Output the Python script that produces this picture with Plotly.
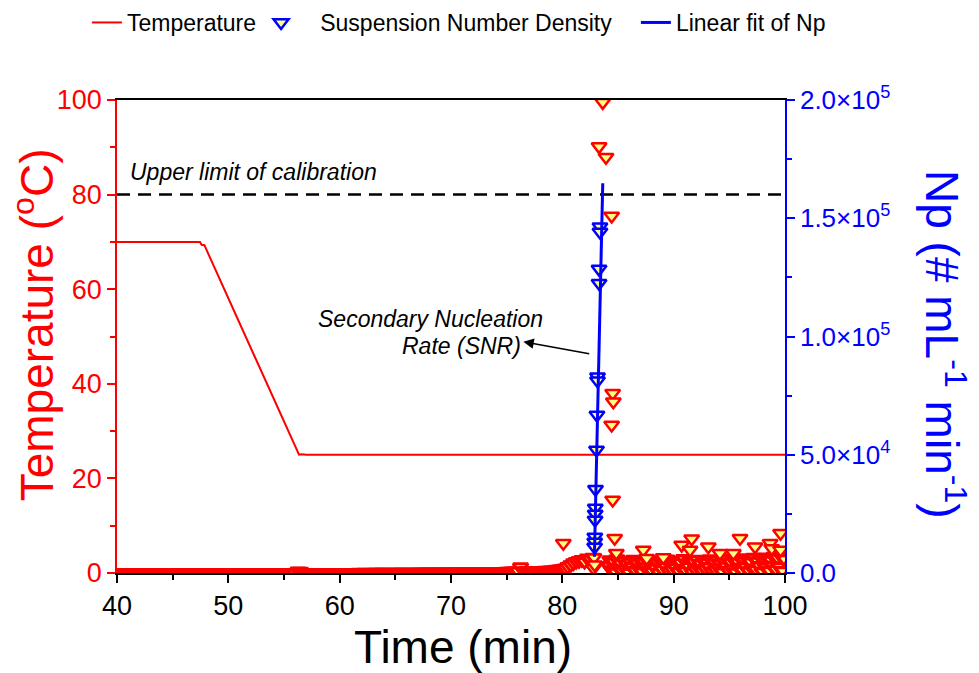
import plotly.graph_objects as go

# ---------------- data ----------------
# Temperature profile (left axis, degC)
temp_time = [40.0, 47.45, 47.6, 47.85, 56.35, 56.6, 57.0, 100.0]
temp_vals = [70.0, 70.0, 69.4, 69.3, 25.0, 25.1, 25.0, 25.0]

# Suspension number density, dense baseline (right axis), sampled every 0.25 min from 40.0 min
base_t0, base_dt = 40.0, 0.25
base_np = [
    0, 20, 10, 30, 0, 20, 40, 10, 0, 30, 20, 10, 40, 20, 0, 30, 10, 20, 40, 0,
    20, 30, 10, 0, 40, 20, 30, 10, 20, 0, 30, 40, 20, 10, 30, 0, 20, 40, 10, 30,
    20, 0, 30, 20, 50, 10, 30, 40, 20, 0, 60, 30, 10, 40, 20, 50, 30, 10, 40, 60,
    30, 50, 20, 60, 40, 700, 650, 60, 80, 50, 90, 70, 100, 60, 110, 90, 80, 120, 100, 130,
    110, 90, 140, 120, 150, 130, 110, 160, 140, 170, 150, 130, 180, 160, 190, 170, 200, 150, 210, 180,
    220, 200, 190, 230, 210, 250, 230, 260, 240, 280, 250, 270, 300, 260, 290, 310, 280, 300, 330, 310,
    340, 320, 360, 350, 380, 400, 380, 420, 410, 450, 430, 470, 460, 500, 480, 520, 540, 510, 560, 580,
    620, 660, 700, 740, 780, 2500, 820, 860, 880, 900, 920, 950, 980, 1000, 1050, 1100, 1200, 1300, 1450, 1600,
    1800, 2000, 2600, 3400, 4200, 4800, 5200, 5600, 4800, 6200, 5800, 6600,
]

# Suspension number density, dense cluster after the nucleation burst, every 0.15 min from 84.15 min
clus_t0, clus_dt = 84.15, 0.15
clus_np = [
    3000, 5400, 1200, 4600, 300, 5800, 2200, 4100, 800, 5200, 1600, 3700, 200, 4900, 2600, 5600, 900, 4300, 1900, 5100,
    400, 4700, 2400, 5500, 1100, 3900, 600, 5300, 2000, 4500, 100, 5000, 1500, 4200, 2800, 5700, 700, 4800, 1300, 3600,
    2300, 5200, 500, 4400, 1800, 5900, 1000, 4000, 2700, 5300, 300, 4600, 1400, 5600, 2100, 3800, 800, 5000, 1700, 4300,
    2500, 5800, 600, 4700, 1200, 5400, 2000, 3900, 400, 5100, 2900, 6000, 900, 4500, 1600, 5500, 300, 4800, 2200, 6200,
    1100, 5300, 2600, 5900, 700, 4600, 1900, 6400, 1400, 5000, 3000, 6600, 500, 5700, 2400, 6100, 1000, 5400, 3200, 6900,
    1500, 6300, 2800, 7400, 900, 6000,
]

# Isolated points not used in the fit
spike_time = [80.09, 82.80, 82.85, 82.90, 83.30, 83.63, 83.92, 84.43, 84.43, 84.52, 84.58,
              84.52, 84.70, 84.85, 87.27, 87.58, 89.07, 90.72, 91.47, 91.62, 93.11,
              94.16, 95.36, 95.96, 97.31, 98.66, 98.81, 99.60, 99.60]
spike_np = [12600, 2000, 6500, 3500, 180300, 199000, 175800, 151000, 62600, 76000, 72400,
            30900, 14700, 8400, 9700, 6200, 6600, 11800, 9700, 14500, 11100,
            8300, 8300, 14700, 11100, 12600, 10400, 16800, 9700]

# Points used for the linear fit (Suspension Number Density)
fit_pts_time = [83.38, 83.38, 83.30, 83.30, 83.16, 83.16, 83.11, 83.07, 82.98,
                82.96, 82.95, 82.94, 82.92, 82.91, 82.90]
fit_pts_np = [146400, 144200, 128500, 122500, 83000, 81300, 66800, 52000, 35400,
              27500, 25000, 22400, 15200, 13100, 11000]

# Linear fit of Np
fit_line_time = [82.88, 83.63]
fit_line_np = [6900, 164800]

calib_limit = 80  # degC

x_ticks = [40, 50, 60, 70, 80, 90, 100]
yl_ticks = [0, 20, 40, 60, 80, 100]
yr_ticks = [0, 50000, 100000, 150000, 200000]
yr_ticktext = ["0.0", "5.0×10<sup>4</sup>", "1.0×10<sup>5</sup>",
               "1.5×10<sup>5</sup>", "2.0×10<sup>5</sup>"]

# ---------------- figure ----------------
FONT = "Liberation Sans, Arial, sans-serif"
RED, BLUE, YEL = "#FF0000", "#0000FF", "#FFFF80"
MS = 13
NB = "\u00a0"

base_time = [base_t0 + i * base_dt for i in range(len(base_np))]
clus_time = [clus_t0 + i * clus_dt for i in range(len(clus_np))]

fig = go.Figure()
fig.add_trace(go.Scatter(x=temp_time, y=temp_vals, mode="lines", name="Temperature",
                         line=dict(color=RED, width=2), yaxis="y"))

base_marker = dict(symbol="triangle-down", size=MS, color=YEL, line=dict(color=RED, width=3))
clus_marker = dict(symbol="triangle-down", size=MS, color=YEL, line=dict(color=RED, width=3.5))
red_marker = dict(symbol="triangle-down", size=MS, color=YEL, line=dict(color=RED, width=2.5))
fig.add_trace(go.Scatter(x=base_time, y=base_np, mode="markers", marker=base_marker,
                         yaxis="y2", showlegend=False))
fig.add_trace(go.Scatter(x=clus_time, y=clus_np, mode="markers", marker=clus_marker,
                         yaxis="y2", showlegend=False))
fig.add_trace(go.Scatter(x=spike_time, y=spike_np, mode="markers", marker=red_marker,
                         yaxis="y2", showlegend=False))
fig.add_trace(go.Scatter(x=fit_pts_time, y=fit_pts_np, mode="markers",
                         name=NB * 3 + "Suspension Number Density" + NB * 3,
                         marker=dict(symbol="triangle-down", size=MS, color=YEL,
                                     line=dict(color=BLUE, width=2.5)),
                         yaxis="y2"))
fig.add_trace(go.Scatter(x=fit_line_time, y=fit_line_np, mode="lines", name="Linear fit of Np",
                         line=dict(color=BLUE, width=3), yaxis="y2"))

fig.add_shape(type="line", xref="paper", x0=0, x1=1, yref="y", y0=calib_limit, y1=calib_limit,
              line=dict(color="black", width=2.5, dash="13px,8px"), layer="below")

ann_font = dict(family=FONT, size=23, color="black")
fig.add_annotation(x=40.95, y=84.8, xref="x", yref="y", text="<i>Upper limit of calibration</i>",
                   showarrow=False, xanchor="left", yanchor="middle", font=ann_font)
fig.add_annotation(x=68.2, y=53.8, xref="x", yref="y", text="<i>Secondary Nucleation</i>",
                   showarrow=False, xanchor="center", yanchor="middle", font=ann_font)
fig.add_annotation(x=70.9, y=48.0, xref="x", yref="y", text="<i>Rate (SNR)</i>",
                   showarrow=False, xanchor="center", yanchor="middle", font=ann_font)
fig.add_annotation(x=76.5, y=48.9, xref="x", yref="y", ax=82.55, ay=46.3, axref="x", ayref="y",
                   text="", showarrow=True, arrowhead=2, arrowsize=1.3, arrowwidth=1.6,
                   arrowcolor="black")

title_font = dict(family=FONT, size=46)
fig.add_annotation(x=0.518, y=-0.1565, xref="paper", yref="paper", text="Time (min)",
                   showarrow=False, xanchor="center", yanchor="middle",
                   font=dict(title_font, color="black"))
fig.add_annotation(x=-0.124, y=0.524, xref="paper", yref="paper",
                   text="Temperature (<sup>o</sup>C)", textangle=-90,
                   showarrow=False, xanchor="center", yanchor="middle",
                   font=dict(title_font, color=RED))
fig.add_annotation(x=1.2395, y=0.482, xref="paper", yref="paper",
                   text="Np (# mL<sup>-1</sup> min<sup>-1</sup>)", textangle=90,
                   showarrow=False, xanchor="center", yanchor="middle",
                   font=dict(title_font, color=BLUE))

fig.update_layout(
    width=979, height=673,
    margin=dict(l=117, r=194, t=100, b=100, autoexpand=False),
    paper_bgcolor="white", plot_bgcolor="white",
    font=dict(family=FONT, color="black"),
    showlegend=True,
    legend=dict(orientation="h", x=-0.045, y=1.2093, xanchor="left", yanchor="top",
                font=dict(family=FONT, size=23, color="black"),
                bgcolor="rgba(0,0,0,0)"),
    xaxis=dict(range=[40, 100], tickvals=x_ticks, ticks="outside", ticklen=8, tickwidth=1.5,
               tickcolor="black", showline=True, linecolor="black", linewidth=1.5, mirror=True,
               showgrid=False, zeroline=False,
               tickfont=dict(family=FONT, size=27, color="black"),
               minor=dict(tickmode="linear", tick0=40, dtick=5, ticks="outside", ticklen=5,
                          tickcolor="black", tickwidth=1.5)),
    yaxis=dict(range=[0, 100], tickvals=yl_ticks, ticks="outside", ticklen=8, tickwidth=1.5,
               tickcolor=RED, showline=True, linecolor=RED, linewidth=1.5,
               showgrid=False, zeroline=False,
               tickfont=dict(family=FONT, size=27, color=RED),
               minor=dict(tickmode="linear", tick0=0, dtick=10, ticks="outside", ticklen=5,
                          tickcolor=RED, tickwidth=1.5)),
    yaxis2=dict(range=[0, 200000], overlaying="y", side="right", tickvals=yr_ticks,
                ticktext=yr_ticktext, ticks="outside", ticklen=8, tickwidth=1.5,
                tickcolor=BLUE, showline=True, linecolor=BLUE, linewidth=1.5,
                showgrid=False, zeroline=False,
                tickfont=dict(family=FONT, size=26, color=BLUE),
                minor=dict(tickmode="linear", tick0=0, dtick=25000, ticks="outside", ticklen=5,
                           tickcolor=BLUE, tickwidth=1.5)),
)

fig.write_html("out.html")
